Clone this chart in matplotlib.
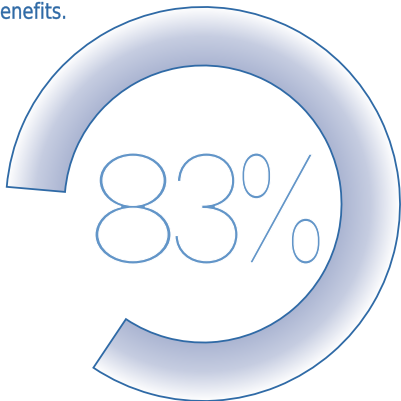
import numpy as np
import matplotlib
matplotlib.use('Agg')
import matplotlib.pyplot as plt
from matplotlib import font_manager
from matplotlib.patches import Wedge, PathPatch
from matplotlib.textpath import TextPath
from matplotlib.font_manager import FontProperties
from matplotlib.transforms import Affine2D
from matplotlib.colors import LinearSegmentedColormap

# 数据
percent = 83
label = '83%'
caption = 'enefits.'

W, H = 401, 402
cx, cy = 203, H - 205
r_out, r_in = 197, 138.5
end_angle = 175  # 缺口左侧端点的角度
start_angle = end_angle - percent / 100 * 360

line_col = '#2f6aa6'
text_col = '#6295c8'

# 每个字符在图中的位置 (x0, x1, 顶部y, 底部y)，像素坐标（y向下）
glyph_boxes = [(95, 171, 154, 265), (175, 238, 154, 265), (242, 320, 154, 265)]

fig = plt.figure(figsize=(W / 100, H / 100), dpi=100)
ax = fig.add_axes([0, 0, 1, 1])
ax.set_xlim(0, W)
ax.set_ylim(0, H)
ax.set_aspect('auto')
ax.axis('off')

# 径向渐变：内侧蓝灰，外侧白色
cmap = LinearSegmentedColormap.from_list('ring', ['#abb5d2', '#c6cde1', '#ffffff'])
xx, yy = np.meshgrid(np.arange(W) + 0.5, np.arange(H) + 0.5)
rr = np.hypot(xx - cx, yy - cy)
t = np.clip((rr - r_in) / (r_out - r_in), 0, 1)
img = ax.imshow(t, cmap=cmap, origin='lower', extent=(0, W, 0, H),
                interpolation='bilinear', zorder=1)
ring = Wedge((cx, cy), r_out, start_angle, end_angle, width=r_out - r_in,
             facecolor='none', edgecolor=line_col, linewidth=1.3, zorder=3)
ax.add_patch(ring)
img.set_clip_path(ring)

# 选一个最细的字体
best = None
for f in font_manager.fontManager.ttflist:
    if f.name in ('Roboto', 'Lato', 'Inter', 'Open Sans', 'Noto Sans', 'DejaVu Sans'):
        w = f.weight if isinstance(f.weight, int) else 400
        if f.style == 'normal' and (best is None or w < best[0]):
            best = (w, f.fname)
thin = FontProperties(fname=best[1]) if best else FontProperties()


def place(s, prop, x0, x1, ytop, ybot):
    tp = TextPath((0, 0), s, size=100, prop=prop)
    e = tp.get_extents()
    tr = (Affine2D().translate(-e.x0, -e.y0)
          .scale((x1 - x0) / e.width, (ybot - ytop) / e.height)
          .translate(x0, H - ybot))
    return tr.transform_path(tp)


for ch, (x0, x1, yt, yb) in zip(label, glyph_boxes):
    p = place(ch, thin, x0, x1, yt, yb)
    ax.add_patch(PathPatch(p, facecolor=text_col, edgecolor='none', zorder=4))
    # 用白色描边把笔画削细
    ax.add_patch(PathPatch(p, facecolor='none', edgecolor='white',
                           linewidth=0.8, zorder=5))

# 左上角的残缺文字
reg = FontProperties(family='DejaVu Sans')
cp = place(caption, reg, 1, 65, 3, 20)
ax.add_patch(PathPatch(cp, facecolor=line_col, edgecolor=line_col,
                       linewidth=0.25, zorder=4))

fig.savefig('out.png', dpi=100)
